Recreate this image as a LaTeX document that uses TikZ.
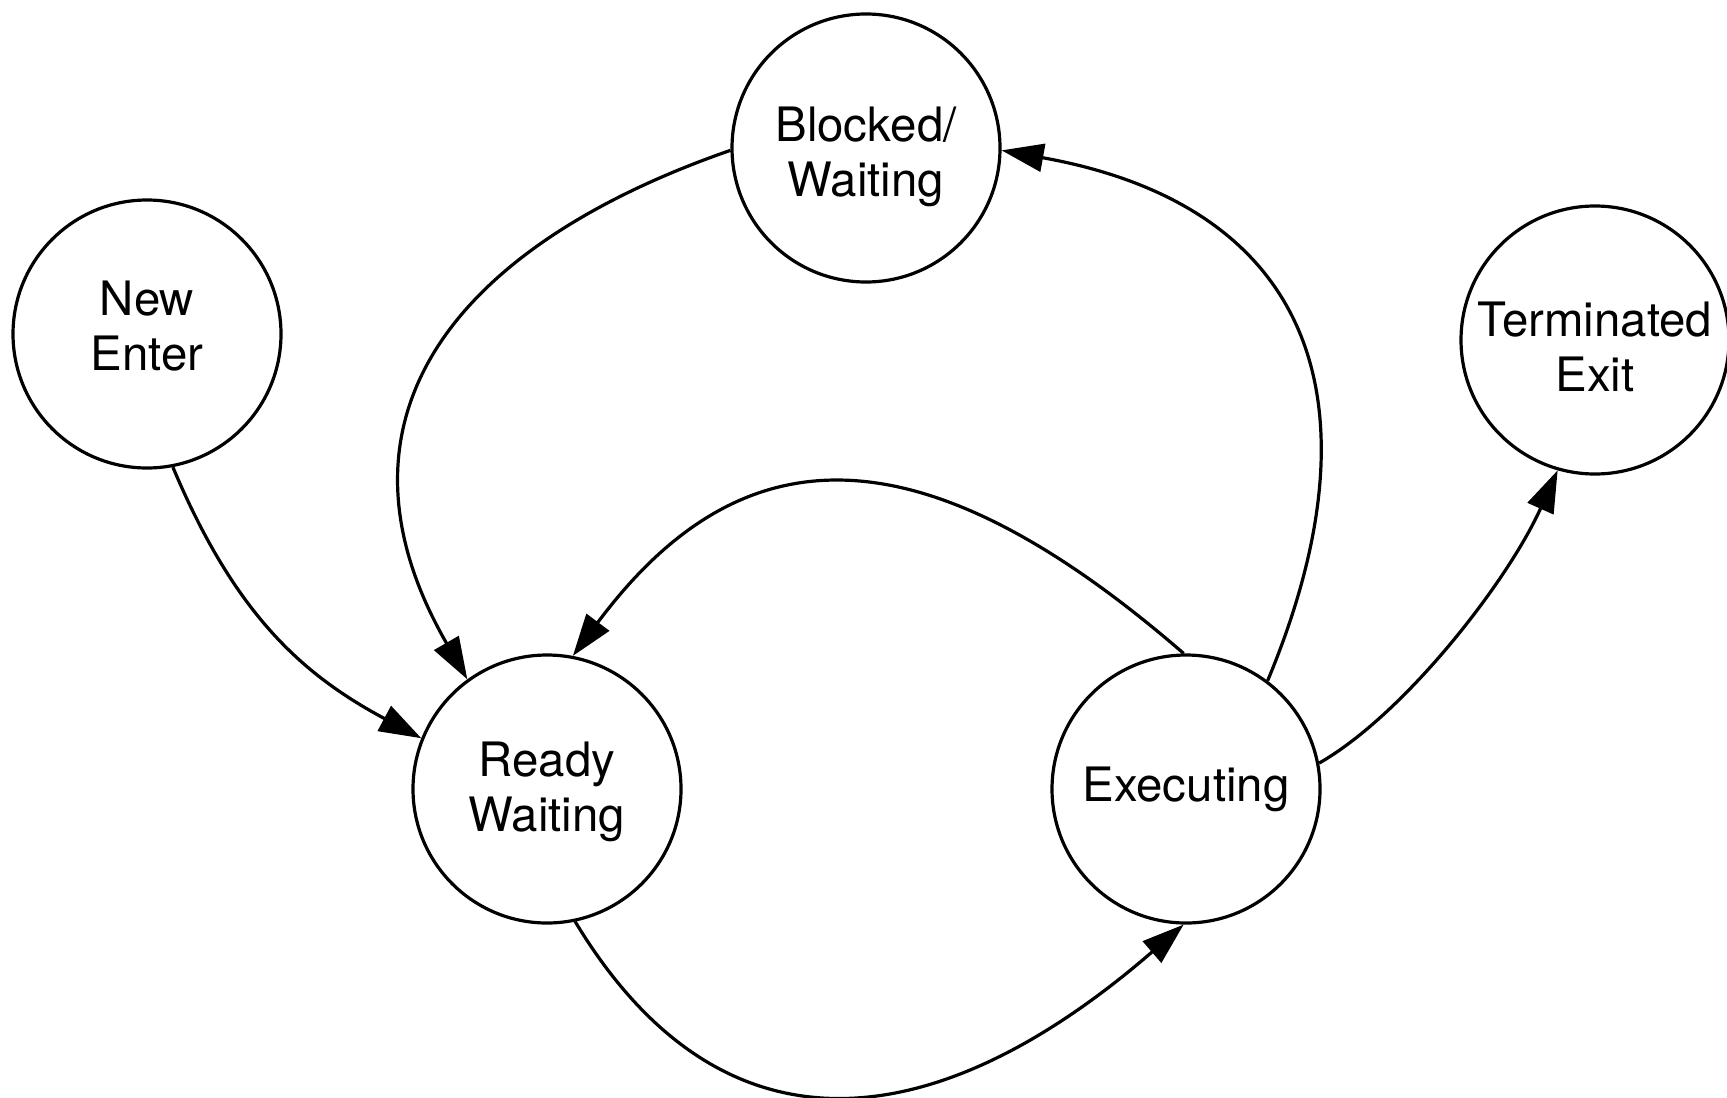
\documentclass[tikz,border=0pt]{standalone}
\usepackage{fontspec}
\setmainfont{TeX Gyre Heros}
\usetikzlibrary{arrows.meta}
\begin{document}
\begin{tikzpicture}[x=0.5pt,y=-0.5pt,
  state/.style={circle,draw,line width=1.6pt,minimum size=134pt,inner sep=0pt},
  statetext/.style={align=center,inner sep=0pt,font=\fontsize{23.7}{27.8}\selectfont},
  flow/.style={line width=1.6pt,-{Triangle[length=21pt,width=14pt]}}]
\useasboundingbox (0,0) rectangle (1727,1097);
\fill[white] (0,0) rectangle (1727,1097);

% process states
\node[state] (blocked) at (866,148)  {};
\node[state] (new)     at (147,334)  {};
\node[state] (term)    at (1595,340) {};
\node[state] (ready)   at (547,789)  {};
\node[state] (exec)    at (1186,789) {};

% state names
\node[statetext] (blocked-t) at (866,157)  {Blocked/\\Waiting};
\node[statetext] (new-t)     at (147,326)  {New\\Enter};
\node[statetext] (term-t)    at (1595,347) {Terminated\\Exit};
\node[statetext] (ready-t)   at (547,792)  {Ready\\Waiting};
\node[statetext] (exec-t)    at (1186,789) {Executing};

% transitions
\draw[flow] (new.-79) .. controls (235,615) and (303,675) .. (ready.158);
\draw[flow] (blocked.181) .. controls (452,247) and (318,420) .. (ready.126);
\draw[flow] (exec.53) .. controls (1384,402) and (1312,206) .. (blocked.-1);
\draw[flow] (exec.91) .. controls (920,425) and (741,430) .. (ready.79);
\draw[flow] (ready.-78) .. controls (722,1165) and (935,1140) .. (exec.-91);
\draw[flow] (exec.11) .. controls (1405,714) and (1508,581) .. (term.-106);
\end{tikzpicture}
\end{document}
